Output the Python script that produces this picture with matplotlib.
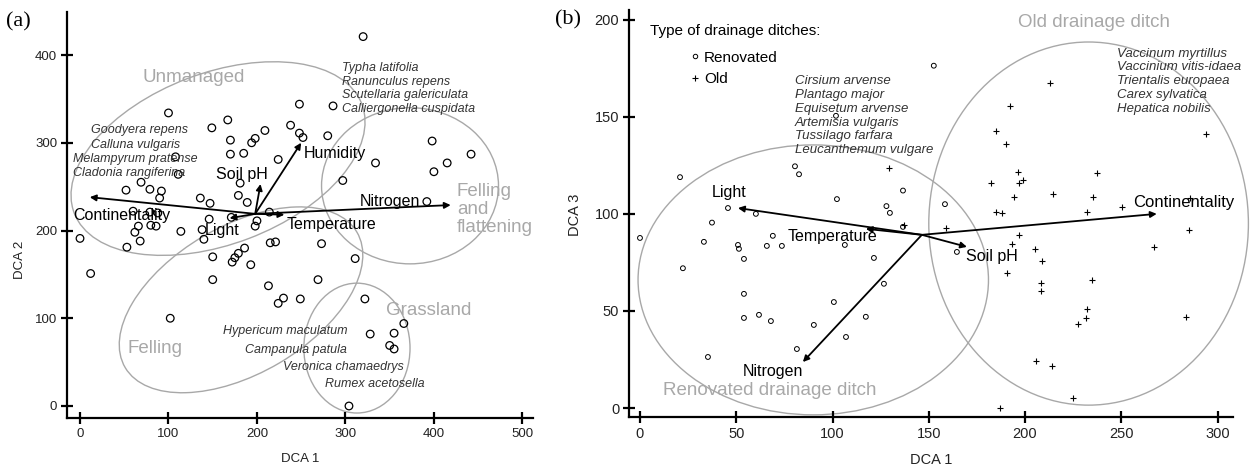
import numpy as np
import matplotlib
matplotlib.use('Agg')
import matplotlib.pyplot as plt
from matplotlib.patches import Ellipse
from matplotlib.lines import Line2D

plt.rcParams['font.family'] = ['Liberation Sans', 'DejaVu Sans']

# ---------------- panel (a) data ----------------
a_x = [100, 149, 167, 170, 170, 185, 194, 198, 209, 224, 238, 248, 248, 252,
       181, 179, 189, 52, 69, 79, 92, 90, 111, 108, 136, 147, 214, 146, 138,
       114, 60, 79, 88, 66, 80, 86, 62, 68, 53, 0, 12, 140, 171, 150, 150,
       172, 175, 179, 186, 193, 213, 215, 221, 200, 198, 224, 230, 249, 269,
       273, 311, 102, 320, 286, 280, 334, 297, 398, 442, 415, 400, 392, 322,
       366, 328, 355, 350, 355, 304]
a_y = [334, 317, 326, 303, 287, 288, 300, 305, 314, 281, 320, 344, 311, 306,
       254, 240, 232, 246, 255, 247, 245, 237, 264, 284, 237, 231, 221, 213,
       201, 199, 222, 221, 220, 205, 206, 205, 198, 188, 181, 191, 151, 190,
       215, 170, 144, 164, 169, 174, 180, 161, 137, 186, 187, 211, 205, 117,
       123, 122, 144, 185, 168, 100, 421, 342, 308, 277, 257, 302, 287, 277,
       267, 233, 122, 94, 82, 83, 69, 65, 0]

a_vars = ['Continentality', 'Light', 'Soil pH', 'Humidity', 'Temperature', 'Nitrogen']
a_origin = (198, 219)
a_end_x = [11, 169, 204, 250, 231, 419]
a_end_y = [238, 214, 253, 300, 218, 229]

# group ellipses: centre x, centre y, width, height, angle
a_groups = ['Unmanaged', 'Felling', 'Felling\nand\nflattening', 'Grassland']
a_ell_cx = [156, 182, 373, 313]
a_ell_cy = [282, 121, 251, 66]
a_ell_w = [348, 304, 200, 120]
a_ell_h = [195, 168, 178, 148]
a_ell_ang = [21, 30.6, 0, 0]

# ---------------- panel (b) data ----------------
ren_x = [101.8, 80.5, 82.6, 20.8, 45.7, 60.2, 102.3, 136.6, 128, 129.8, 37.4, 0,
         69, 22.3, 33.2, 50.9, 51.4, 54, 65.9, 73.7, 106.4, 121.5, 126.7, 54,
         100.7, 54, 61.8, 68, 90.3, 117.3, 107, 81.5, 35.3, 136.6, 158.4, 164.6,
         152.6]
ren_y = [150.5, 124.5, 120.4, 118.9, 103, 100, 107.6, 112, 104, 100.5, 95.5, 87.6,
         88.7, 72, 85.6, 84, 82, 76.8, 83.5, 83.5, 84, 77.3, 64, 58.8,
         54.6, 46.4, 48, 44.8, 42.8, 47, 36.6, 30.4, 26.3, 93.3, 105, 80.4,
         176.3]
old_x = [129.3, 137, 158.9, 212.9, 192, 184.8, 190, 293.9, 196.3, 196.8, 198.9,
         182.2, 237.3, 194.2, 214.4, 235.2, 184.8, 188, 232.1, 250.3, 285, 285.6,
         196.8, 193.1, 205.1, 208.7, 266.9, 190.5, 208.2, 208.2, 234.7, 232.1,
         231.6, 227.4, 283.5, 205.6, 213.9, 224.8, 186.9]
old_y = [123.7, 94.3, 92.8, 167.5, 155.7, 142.8, 136, 141.2, 121.6, 116, 117.5,
         116, 121, 108.8, 110.3, 108.8, 101, 100.5, 101, 103.6, 91.8, 108,
         89, 84.5, 82, 75.8, 83, 69.6, 64.4, 60.3, 66, 51,
         46.4, 43.3, 46.9, 24.2, 21.6, 5.2, 0]

b_vars = ['Light', 'Temperature', 'Soil pH', 'Nitrogen', 'Continentality']
b_origin = (146.4, 89.2)
b_end_x = [50.9, 117.3, 169.8, 84.6, 268.4]
b_end_y = [103, 92.3, 83, 23.7, 100]

b_groups = ['Renovated drainage ditch', 'Old drainage ditch']
b_ell_cx = [90, 233]
b_ell_cy = [66, 95]
b_ell_w = [182, 166]
b_ell_h = [139, 187]

GREY = '#a8a8a8'
SPEC = '#333333'


def style_axes(ax, fs):
    for s in ['top', 'right']:
        ax.spines[s].set_visible(False)
    for s in ['left', 'bottom']:
        ax.spines[s].set_linewidth(1.6)
    ax.tick_params(direction='inout', length=8, width=1.6, labelsize=fs,
                   labelcolor='#222222', pad=3)


def arrows(ax, origin, ex, ey):
    for x, y in zip(ex, ey):
        ax.annotate('', xy=(x, y), xytext=origin,
                    arrowprops=dict(arrowstyle='-|>', color='black', lw=1.3,
                                    mutation_scale=9, shrinkA=0, shrinkB=0))


fig = plt.figure(figsize=(12.5, 4.7), dpi=100)

# ================= (a) =================
ax = fig.add_axes([0.0536, 0.1106, 0.3728, 0.8638])
ax.set_xlim(-14.7, 512)
ax.set_ylim(-13.7, 449)
for i in range(len(a_groups)):
    ax.add_patch(Ellipse((a_ell_cx[i], a_ell_cy[i]), a_ell_w[i], a_ell_h[i],
                         angle=a_ell_ang[i], fill=False, ec=GREY, lw=1.0))
ax.scatter(a_x, a_y, s=30, facecolors='none', edgecolors='black', linewidths=0.9, zorder=3)
arrows(ax, a_origin, a_end_x, a_end_y)

ax.text(-8, 217.5, 'Continentality', fontsize=11.5, va='center')
ax.text(141, 200, 'Light', fontsize=11.5, va='center')
ax.text(154, 264, 'Soil pH', fontsize=11.5, va='center')
ax.text(253, 288, 'Humidity', fontsize=11.5, va='center')
ax.text(234, 207, 'Temperature', fontsize=11.5, va='center')
ax.text(316, 233.5, 'Nitrogen', fontsize=11.5, va='center')

ax.text(128, 374, 'Unmanaged', fontsize=13.5, color=GREY, ha='center', va='center')
ax.text(85, 66, 'Felling', fontsize=13.5, color=GREY, ha='center', va='center')
ax.text(394, 109, 'Grassland', fontsize=13.5, color=GREY, ha='center', va='center')
ax.text(426, 224, 'Felling\nand\nflattening', fontsize=13.5, color=GREY,
        va='center', linespacing=1.1)

ax.text(12, 315, 'Goodyera repens', fontsize=9, style='italic', color=SPEC, va='center')
ax.text(12, 298, 'Calluna vulgaris', fontsize=9, style='italic', color=SPEC, va='center')
ax.text(-8, 282, 'Melampyrum pratense', fontsize=9, style='italic', color=SPEC, va='center')
ax.text(-8, 266, 'Cladonia rangiferina', fontsize=9, style='italic', color=SPEC, va='center')
ax.text(296, 362, 'Typha latifolia\nRanunculus repens\nScutellaria galericulata\n'
        'Calliergonella cuspidata', fontsize=9, style='italic', color=SPEC,
        va='center', linespacing=1.17)
ax.text(162, 85, 'Hypericum maculatum', fontsize=9, style='italic', color=SPEC, va='center')
ax.text(187, 64, 'Campanula patula', fontsize=9, style='italic', color=SPEC, va='center')
ax.text(230, 44, 'Veronica chamaedrys', fontsize=9, style='italic', color=SPEC, va='center')
ax.text(277, 25, 'Rumex acetosella', fontsize=9, style='italic', color=SPEC, va='center')

ax.set_xticks([0, 100, 200, 300, 400, 500])
ax.set_yticks([0, 100, 200, 300, 400])
style_axes(ax, 9.5)
ax.set_xlabel('DCA 1', fontsize=9.5, color='#222222', va='center')
ax.set_ylabel('DCA 2', fontsize=9.5, color='#222222', va='center')
ax.xaxis.set_label_coords(0.5, -0.101)
ax.yaxis.set_label_coords(-0.101, 0.389)

# ================= (b) =================
bx = fig.add_axes([0.5032, 0.1128, 0.4832, 0.866])
bx.set_xlim(-5.7, 308)
bx.set_ylim(-4.6, 205)
for i in range(len(b_groups)):
    bx.add_patch(Ellipse((b_ell_cx[i], b_ell_cy[i]), b_ell_w[i], b_ell_h[i],
                         fill=False, ec=GREY, lw=1.0, clip_on=False))
bx.scatter(ren_x, ren_y, s=12, facecolors='none', edgecolors='black', linewidths=0.7, zorder=3)
bx.scatter(old_x, old_y, s=22, marker='+', color='black', linewidths=0.8, zorder=3)
arrows(bx, b_origin, b_end_x, b_end_y)

bx.text(37.4, 110.8, 'Light', fontsize=11.5, va='center')
bx.text(76.8, 88.1, 'Temperature', fontsize=11.5, va='center')
bx.text(169.3, 77.8, 'Soil pH', fontsize=11.5, va='center')
bx.text(53.5, 18.6, 'Nitrogen', fontsize=11.5, va='center')
bx.text(256, 105.7, 'Continentality', fontsize=12, va='center')

bx.text(236, 198.5, 'Old drainage ditch', fontsize=13.5, color=GREY, ha='center', va='center')
bx.text(67.2, 8.8, 'Renovated drainage ditch', fontsize=13.5, color=GREY,
        ha='center', va='center')

bx.text(80.5, 150.5, 'Cirsium arvense\nPlantago major\nEquisetum arvense\n'
        'Artemisia vulgaris\nTussilago farfara\nLeucanthemum vulgare',
        fontsize=9.5, style='italic', color=SPEC, va='center', linespacing=1.2)
bx.text(248, 168.3, 'Vaccinum myrtillus\nVaccinium vitis-idaea\nTrientalis europaea\n'
        'Carex sylvatica\nHepatica nobilis',
        fontsize=9.5, style='italic', color=SPEC, va='center', linespacing=1.2)

bx.text(5.2, 194.3, 'Type of drainage ditches:', fontsize=11, va='center')
handles = [Line2D([], [], ls='none', marker='o', ms=3.2, mfc='none', mec='black', mew=0.7),
           Line2D([], [], ls='none', marker='+', ms=4.5, color='black', mew=0.8)]
bx.legend(handles, ['Renovated', 'Old'], loc='upper left', bbox_to_anchor=(0.1015, 0.90),
          frameon=False, fontsize=11, handlelength=0.6, handletextpad=0.3,
          labelspacing=0.5, borderpad=0, borderaxespad=0)

bx.set_xticks([0, 50, 100, 150, 200, 250, 300])
bx.set_yticks([0, 50, 100, 150, 200])
style_axes(bx, 10.5)
bx.set_xlabel('DCA 1', fontsize=10.5, color='#222222', va='center')
bx.set_ylabel('DCA 3', fontsize=10.5, color='#222222', va='center')
bx.xaxis.set_label_coords(0.5, -0.106)
bx.yaxis.set_label_coords(-0.089, 0.496)

fig.text(0.005, 0.953, '(a)', family=['Liberation Serif', 'DejaVu Serif'], fontsize=16, va='center')
fig.text(0.444, 0.957, '(b)', family=['Liberation Serif', 'DejaVu Serif'], fontsize=16, va='center')

fig.savefig('out.png', dpi=100)
